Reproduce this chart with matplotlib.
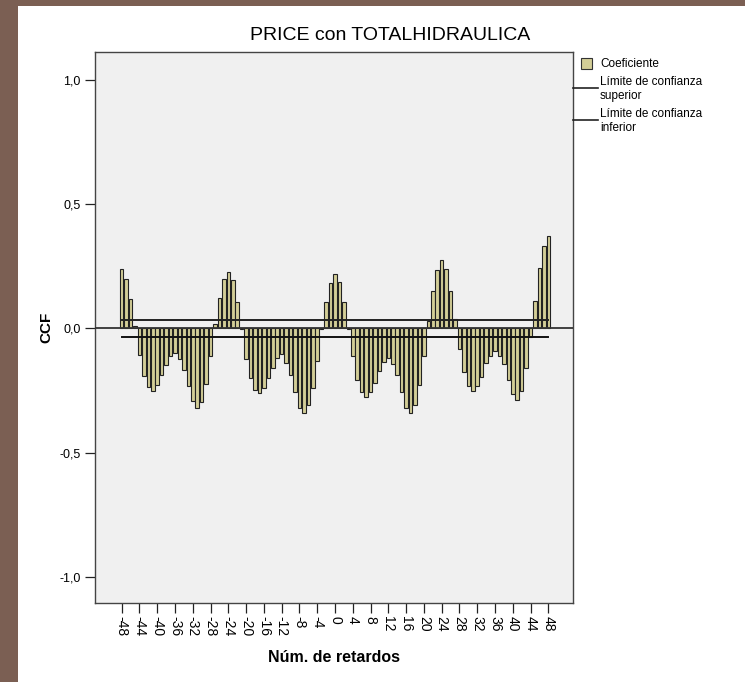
import matplotlib
matplotlib.use("Agg")
import matplotlib.pyplot as plt
from matplotlib.patches import Rectangle
from matplotlib.lines import Line2D

plt.rcParams['font.family'] = ['Liberation Sans', 'DejaVu Sans']

lags = list(range(-48, 49))
ccf = [
    0.240, 0.200, 0.118, 0.011, -0.107, -0.191, -0.237, -0.251, -0.229, -0.189,   # -48..-39
    -0.148, -0.112, -0.098, -0.124, -0.169, -0.232, -0.294, -0.320, -0.298, -0.223,  # -38..-29
    -0.112, 0.016, 0.124, 0.198, 0.229, 0.195, 0.107, -0.004, -0.125, -0.200,      # -28..-19
    -0.250, -0.262, -0.242, -0.200, -0.160, -0.118, -0.105, -0.141, -0.188, -0.255,  # -18..-9
    -0.320, -0.340, -0.309, -0.242, -0.132, -0.004, 0.105, 0.184, 0.219, 0.188,     # -8..1
    0.108, -0.004, -0.113, -0.207, -0.258, -0.275, -0.257, -0.218, -0.173, -0.135,  # 2..11
    -0.120, -0.145, -0.188, -0.256, -0.321, -0.340, -0.310, -0.228, -0.112, 0.029,  # 12..21
    0.149, 0.237, 0.275, 0.239, 0.150, 0.037, -0.082, -0.175, -0.234, -0.252,       # 22..31
    -0.234, -0.197, -0.141, -0.110, -0.090, -0.110, -0.145, -0.206, -0.266, -0.289, # 32..41
    -0.253, -0.161, -0.034, 0.112, 0.242, 0.332, 0.370,                            # 42..48
]
upper_limit = 0.034
lower_limit = -0.034
xtick_vals = list(range(-48, 49, 4))
ytick_vals = [-1.0, -0.5, 0.0, 0.5, 1.0]
ytick_labels = ['-1,0', '-0,5', '0,0', '0,5', '1,0']

W, H = 745, 682
fig = plt.figure(figsize=(W / 100, H / 100), dpi=100)
fig.patch.set_facecolor('white')

# brown frame on left/top
fig.add_artist(Rectangle((0, 0), 18 / W, 1, transform=fig.transFigure,
                         facecolor='#7b5f53', edgecolor='none'))
fig.add_artist(Rectangle((0, 1 - 6 / H), 1, 6 / H, transform=fig.transFigure,
                         facecolor='#7b5f53', edgecolor='none'))

ax_l, ax_r, ax_t, ax_b = 95, 573, 52, 603
ax = fig.add_axes([ax_l / W, 1 - ax_b / H, (ax_r - ax_l) / W, (ax_b - ax_t) / H])
ax.set_facecolor('#f0f0f0')

bar_color = '#d3ce97'
ax.bar(lags, ccf, width=0.78, color=bar_color, edgecolor='#222222', linewidth=0.8, zorder=2)
ax.axhline(0, color='#333333', linewidth=1.3, zorder=3)
ax.plot([lags[0], lags[-1]], [upper_limit, upper_limit], color='#222222', linewidth=1.4, zorder=4)
ax.plot([lags[0], lags[-1]], [lower_limit, lower_limit], color='#111111', linewidth=1.4, zorder=4)

ax.set_xlim(-54.0, 53.55)
ax.set_ylim(-1.106, 1.113)

ax.set_xticks(xtick_vals)
ax.set_xticklabels([str(v) for v in xtick_vals], rotation=-90, fontsize=10)
ax.set_yticks(ytick_vals)
ax.set_yticklabels(ytick_labels, fontsize=9)
ax.tick_params(axis='both', direction='out', length=7, width=0.9, color='#222222')
ax.tick_params(axis='x', pad=2)
for s in ax.spines.values():
    s.set_color('#444444')
    s.set_linewidth(1.0)

ax.set_ylabel('CCF', fontsize=11, fontweight='bold', labelpad=4)
ax.set_xlabel('Núm. de retardos', fontsize=11.5, fontweight='bold', labelpad=10)

fig.text(390 / W, 1 - 35 / H, 'PRICE con TOTALHIDRAULICA', ha='center', va='center', fontsize=14)

# legend
fig.add_artist(Rectangle((581 / W, 1 - 69 / H), 11 / W, 11 / H, transform=fig.transFigure,
                         facecolor=bar_color, edgecolor='#333333', linewidth=0.8))
fig.text(600 / W, 1 - 64 / H, 'Coeficiente', ha='left', va='center', fontsize=8.5)
fig.add_artist(Line2D([573 / W, 598 / W], [1 - 88 / H, 1 - 88 / H], transform=fig.transFigure,
                      color='#222222', linewidth=1.2))
fig.add_artist(Line2D([573 / W, 598 / W], [1 - 120 / H, 1 - 120 / H], transform=fig.transFigure,
                      color='#222222', linewidth=1.2))
fig.text(600 / W, 1 - 76 / H, 'Límite de confianza\nsuperior', ha='left', va='top',
         fontsize=8.5, linespacing=1.2)
fig.text(600 / W, 1 - 108 / H, 'Límite de confianza\ninferior', ha='left', va='top',
         fontsize=8.5, linespacing=1.2)

fig.savefig('out.png', dpi=100, facecolor='white')
